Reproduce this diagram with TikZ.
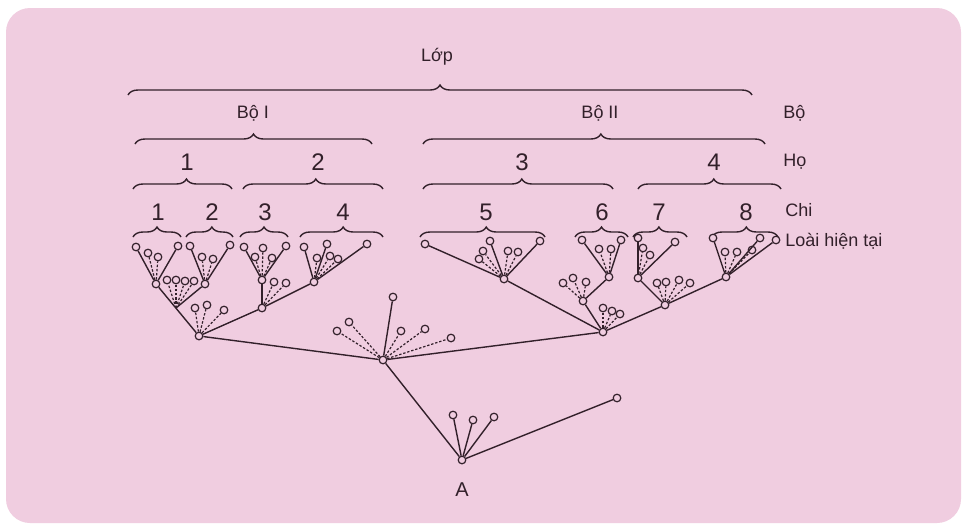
\documentclass[tikz,border=0pt]{standalone}
\usepackage{fontspec}
\setmainfont{Liberation Sans}
\usetikzlibrary{decorations.pathreplacing}
\definecolor{bg}{RGB}{240,205,224}
\definecolor{lc}{RGB}{50,32,42}
\tikzset{
  ln/.style={draw=lc, line width=0.7pt},
  dl/.style={draw=lc, line width=0.6pt, dash pattern=on 1.2pt off 0.9pt},
  lf/.style={circle, draw=lc, fill=bg, line width=0.6pt, inner sep=0pt, minimum size=3.8pt},
  br/.style={draw=lc, line width=0.7pt, decorate, decoration={brace, amplitude=5pt, aspect=#1}},
  br/.default=0.5,
  lbl/.style={text=lc, font=\fontsize{9}{10}\selectfont, inner sep=0pt},
  num/.style={text=lc, font=\fontsize{12}{13}\selectfont, inner sep=0pt}
}
\begin{document}
\begin{tikzpicture}[x=0.5pt,y=-0.5pt]
\useasboundingbox (0,0) rectangle (965,526);
\fill[white] (0,0) rectangle (965,526);
\fill[bg, rounded corners=12pt] (6,8) rectangle (961,523);

% ---------- labels ----------
\node[lbl] (lop) at (437,57) {Lớp};
\node[lbl] (bo1) at (253,113) {Bộ I};
\node[lbl] (bo2) at (600,113) {Bộ II};
\node[lbl,anchor=west] (bo) at (783,113) {Bộ};
\node[num] (h1) at (187,162) {1};
\node[num] (h2) at (318,162) {2};
\node[num] (h3) at (522,162) {3};
\node[num] (h4) at (714,162) {4};
\node[lbl,anchor=west] (ho) at (783,162) {Họ};
\node[num] (c1n) at (158,212) {1};
\node[num] (c2n) at (212,212) {2};
\node[num] (c3n) at (265,212) {3};
\node[num] (c4n) at (343,212) {4};
\node[num] (c5n) at (486,212) {5};
\node[num] (c6n) at (602,212) {6};
\node[num] (c7n) at (659,212) {7};
\node[num] (c8n) at (746,212) {8};
\node[lbl,anchor=west] (chi) at (785,210) {Chi};
\node[lbl,anchor=west] (loai) at (785,241) {Loài hiện tại};
\node[lbl,font=\fontsize{10}{11}\selectfont] (A) at (462,490) {A};

% ---------- braces ----------
\draw[br] (128,95) -- (752,95);
\draw[br] (135,144) -- (372,144);
\draw[br=0.52] (423,144) -- (765,144);
\draw[br=0.54] (133,189) -- (232,189);
\draw[br=0.52] (243,189) -- (383,189);
\draw[br=0.52] (423,189) -- (613,189);
\draw[br=0.53] (638,189) -- (781,189);
\draw[br] (133,237) -- (181,237);
\draw[br=0.55] (186,237) -- (233,237);
\draw[br] (240,237) -- (288,237);
\draw[br=0.52] (300,237) -- (383,237);
\draw[br=0.53] (420,237) -- (545,237);
\draw[br] (575,237) -- (628,237);
\draw[br=0.48] (633,237) -- (687,237);
\draw[br=0.52] (712,237) -- (778,237);

% ---------- nodes ----------
% Bo I
\node[lf] (g1b) at (156,284) {};
\node[lf] (l1a) at (136,247) {};
\node[lf] (l1b) at (178,246) {};
\node[lf] (l1c) at (148,253) {};
\node[lf] (l1d) at (158,257) {};
\node[lf] (g2b) at (205,284) {};
\node[lf] (l2a) at (190,246) {};
\node[lf] (l2b) at (230,245) {};
\node[lf] (l2c) at (202,257) {};
\node[lf] (l2d) at (213,259) {};
\coordinate (f1) at (176,308);
\node[lf] (f1a) at (167,280) {};
\node[lf] (f1b) at (176,280) {};
\node[lf] (f1c) at (185,281) {};
\node[lf] (f1d) at (194,281) {};
\node[lf] (r1) at (199,336) {};
\node[lf] (r1a) at (195,308) {};
\node[lf] (r1b) at (207,305) {};
\node[lf] (r1c) at (224,310) {};
\node[lf] (f2) at (262,308) {};
\node[lf] (f2a) at (274,282) {};
\node[lf] (f2b) at (286,283) {};
\node[lf] (g3b) at (262,280) {};
\node[lf] (l3a) at (244,247) {};
\node[lf] (l3b) at (286,246) {};
\node[lf] (l3c) at (263,248) {};
\node[lf] (l3d) at (255,257) {};
\node[lf] (l3e) at (272,258) {};
\node[lf] (g4b) at (314,282) {};
\node[lf] (l4a) at (304,247) {};
\node[lf] (l4b) at (367,244) {};
\node[lf] (l4c) at (327,244) {};
\node[lf] (l4d) at (317,258) {};
\node[lf] (l4e) at (330,256) {};
\node[lf] (l4f) at (338,259) {};
% centre
\node[lf] (C) at (383,360) {};
\node[lf] (ct) at (393,297) {};
\node[lf] (cd1) at (337,331) {};
\node[lf] (cd2) at (349,322) {};
\node[lf] (cd3) at (401,331) {};
\node[lf] (cd4) at (425,329) {};
\node[lf] (cd5) at (451,338) {};
% Bo II
\node[lf] (r2) at (603,332) {};
\node[lf] (r2a) at (603,308) {};
\node[lf] (r2b) at (612,311) {};
\node[lf] (r2c) at (620,314) {};
\node[lf] (g5b) at (504,279) {};
\node[lf] (l5a) at (425,244) {};
\node[lf] (l5b) at (490,241) {};
\node[lf] (l5c) at (540,241) {};
\node[lf] (l5d) at (483,251) {};
\node[lf] (l5e) at (479,259) {};
\node[lf] (l5f) at (508,251) {};
\node[lf] (l5g) at (518,252) {};
\node[lf] (f3) at (583,301) {};
\node[lf] (f3a) at (563,283) {};
\node[lf] (f3b) at (573,278) {};
\node[lf] (f3c) at (586,282) {};
\node[lf] (g6b) at (609,277) {};
\node[lf] (l6a) at (582,240) {};
\node[lf] (l6b) at (621,240) {};
\node[lf] (l6c) at (599,249) {};
\node[lf] (l6d) at (611,249) {};
\node[lf] (f4) at (665,305) {};
\node[lf] (f4a) at (657,283) {};
\node[lf] (f4b) at (666,282) {};
\node[lf] (f4c) at (679,280) {};
\node[lf] (f4d) at (690,283) {};
\node[lf] (g7b) at (638,278) {};
\node[lf] (l7a) at (638,238) {};
\node[lf] (l7b) at (675,242) {};
\node[lf] (l7c) at (643,248) {};
\node[lf] (l7d) at (650,255) {};
\node[lf] (g8b) at (726,277) {};
\node[lf] (l8a) at (713,238) {};
\node[lf] (l8b) at (760,238) {};
\node[lf] (l8c) at (776,240) {};
\node[lf] (l8d) at (725,252) {};
\node[lf] (l8e) at (737,252) {};
\node[lf] (l8f) at (752,250) {};
% root A
\node[lf] (An) at (462,460) {};
\node[lf] (a1) at (453,415) {};
\node[lf] (a2) at (473,420) {};
\node[lf] (a3) at (494,417) {};
\node[lf] (a4) at (617,398) {};

% ---------- solid lines ----------
\foreach \a/\b in {g1b/l1a,g1b/l1b,g2b/l2a,g2b/l2b,g1b/r1,g2b/f1,
  r1/f2,f2/g4b,g4b/l4b,g4b/l4a,g4b/l4c,g3b/f2,g3b/l3a,g3b/l3b,
  C/r1,C/r2,C/An,C/ct,
  l5a/g5b,g5b/r2,g5b/l5b,g5b/l5c,r2/f3,f3/g6b,g6b/l6a,g6b/l6b,
  r2/f4,f4/g8b,g8b/l8c,g8b/l8a,g8b/l8b,g7b/f4,g7b/l7a,g7b/l7b,
  An/a1,An/a2,An/a3,An/a4}
  \draw[ln] (\a) -- (\b);
% ---------- dashed lines ----------
\foreach \a/\b in {g1b/l1c,g1b/l1d,g2b/l2c,g2b/l2d,
  f1/f1a,f1/f1b,f1/f1c,f1/f1d,r1/r1a,r1/r1b,r1/r1c,
  f2/f2a,f2/f2b,g3b/l3c,g3b/l3d,g3b/l3e,g4b/l4d,g4b/l4e,g4b/l4f,
  C/cd1,C/cd2,C/cd3,C/cd4,C/cd5,
  r2/r2a,r2/r2b,r2/r2c,g5b/l5d,g5b/l5e,g5b/l5f,g5b/l5g,
  f3/f3a,f3/f3b,f3/f3c,g6b/l6c,g6b/l6d,
  f4/f4a,f4/f4b,f4/f4c,f4/f4d,g7b/l7c,g7b/l7d,
  g8b/l8d,g8b/l8e,g8b/l8f}
  \draw[dl] (\a) -- (\b);
\end{tikzpicture}
\end{document}
